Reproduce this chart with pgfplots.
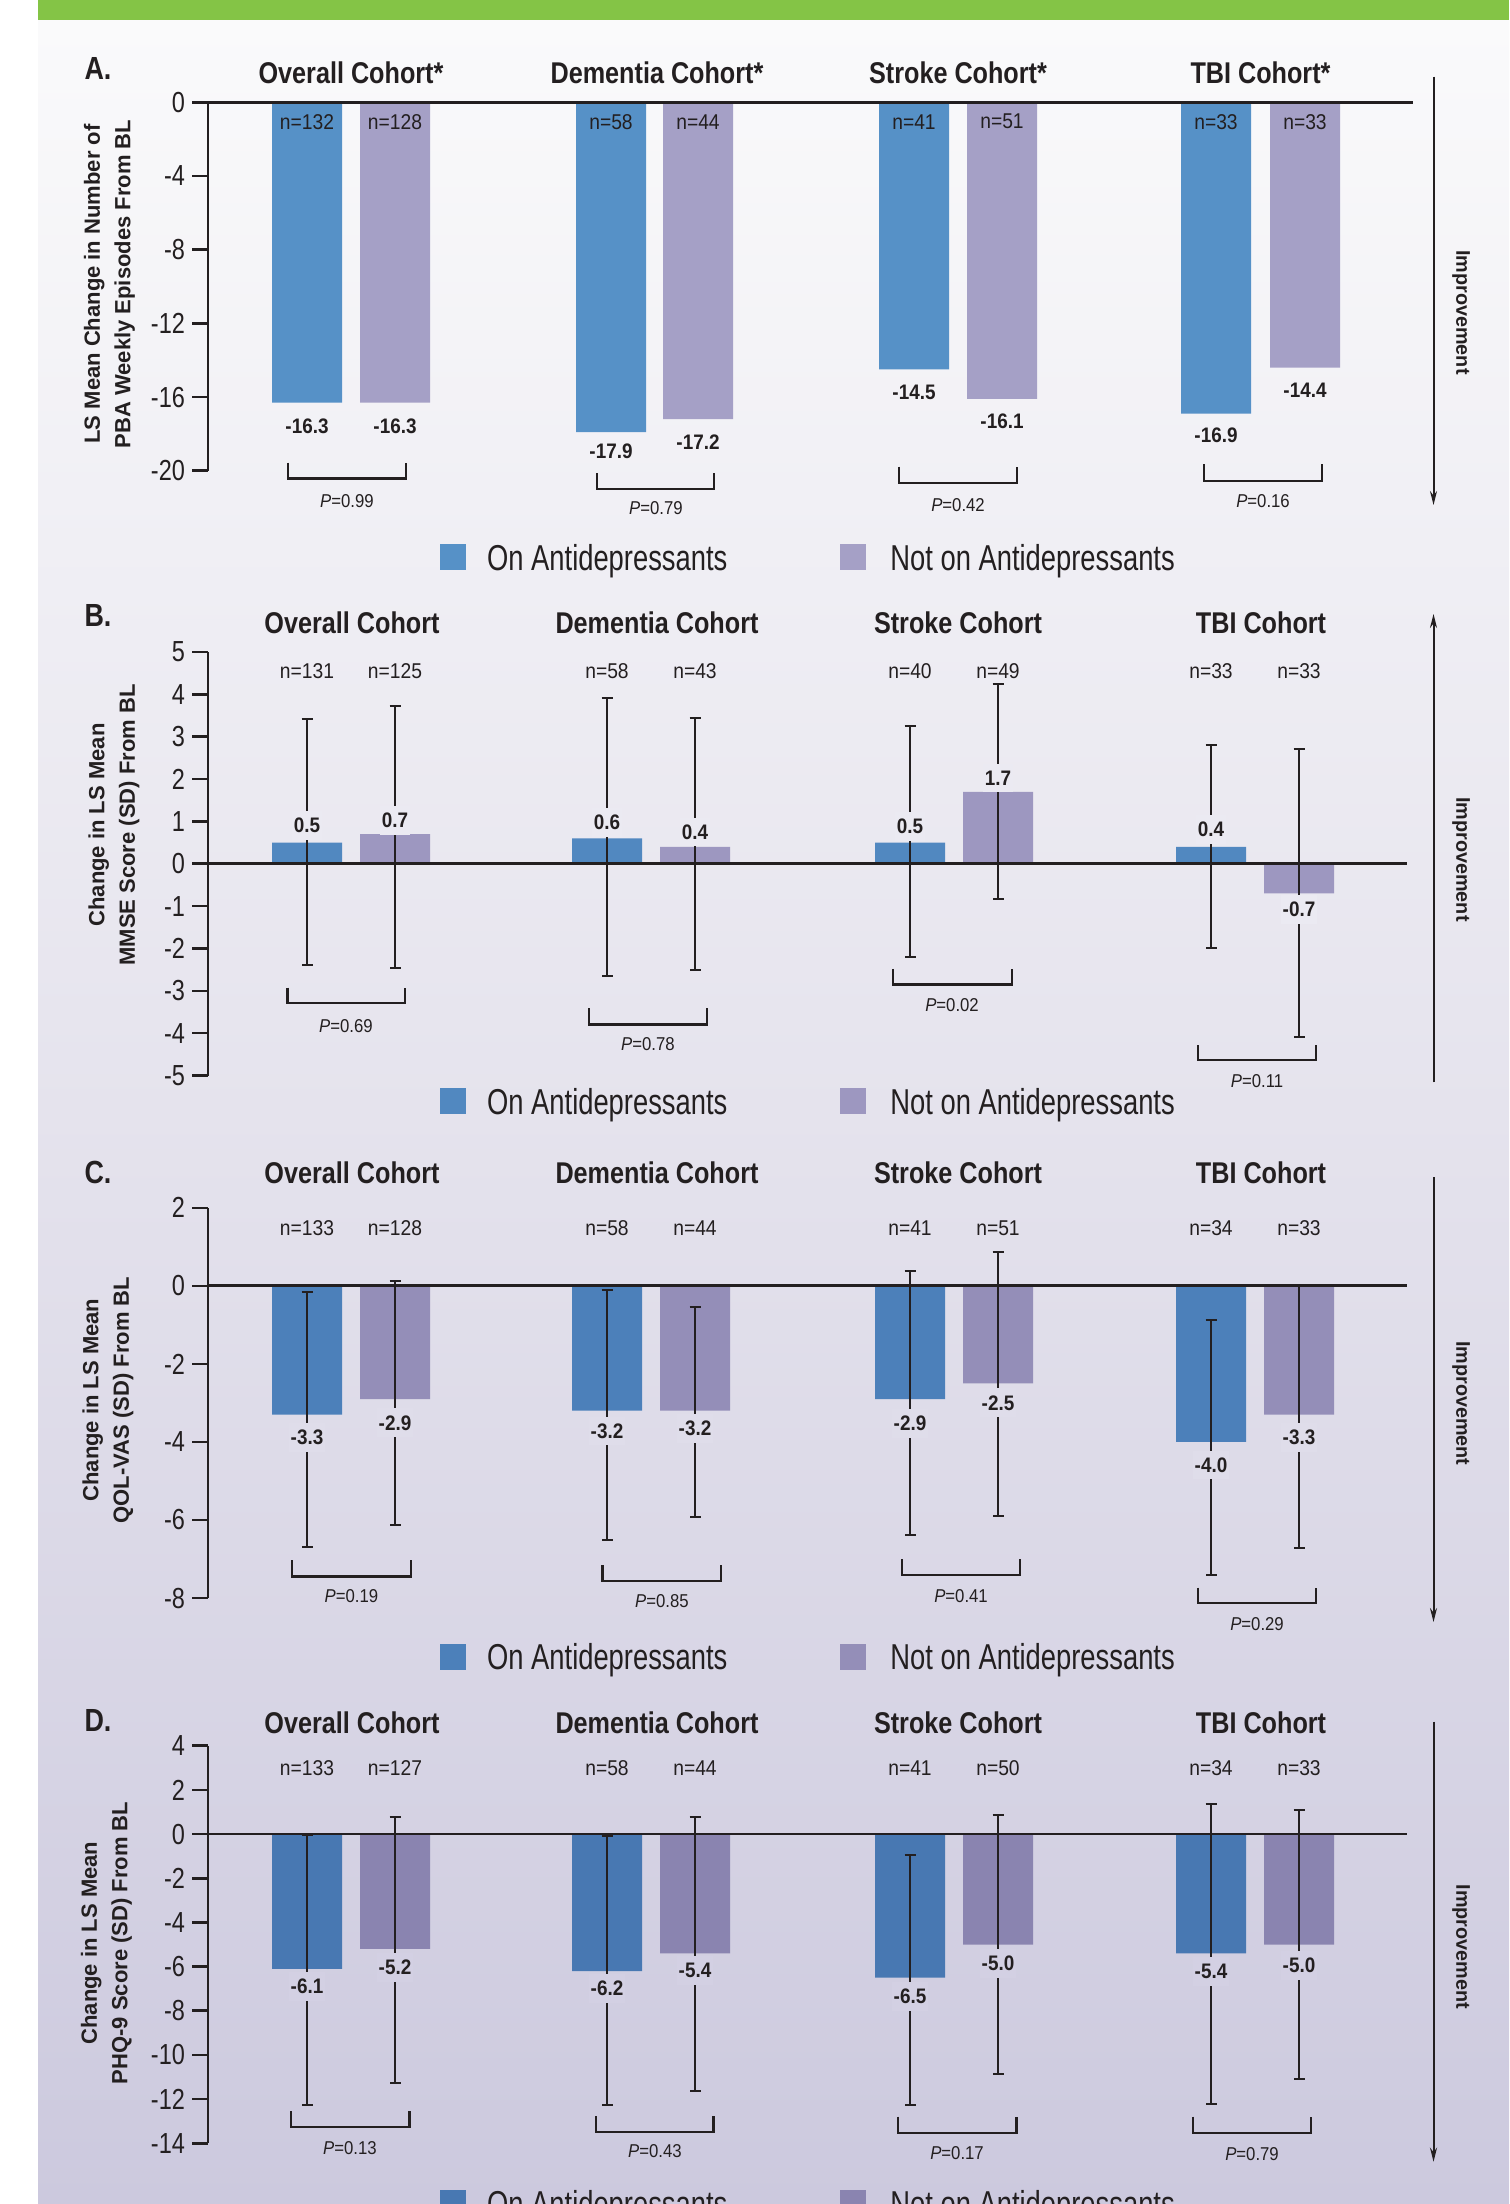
\documentclass[border=0pt]{standalone}
\usepackage{pgfplots}
\pgfplotsset{compat=1.18}
\usepackage{fontspec}
\setmainfont{Liberation Sans}
\newfontfamily\ticksfam[FakeStretch=0.81]{Liberation Sans}
\newfontfamily\titlefam[FakeStretch=0.84]{Liberation Sans}
\newfontfamily\smallfam[FakeStretch=0.9]{Liberation Sans}
\newfontfamily\legfam[FakeStretch=0.76]{Liberation Sans}
\usetikzlibrary{arrows.meta}

\newcommand{\tickfont}{\ticksfam\fontsize{14.5pt}{16pt}\selectfont}
\newcommand{\titlefont}{\titlefam\bfseries\fontsize{15pt}{18pt}\selectfont}
\newcommand{\nfont}{\smallfam\fontsize{10.7pt}{12pt}\selectfont}
\newcommand{\vfont}{\smallfam\bfseries\fontsize{10.5pt}{12pt}\selectfont}
\newcommand{\pfont}{\smallfam\fontsize{9.3pt}{11pt}\selectfont}
\newcommand{\legfont}{\legfam\fontsize{18pt}{20pt}\selectfont}
\newcommand{\ylabfont}{\bfseries\fontsize{11pt}{15.25pt}\selectfont}
\newcommand{\impfont}{\bfseries\fontsize{9.9pt}{12pt}\selectfont}
\newcommand{\letfont}{\titlefam\bfseries\fontsize{16pt}{18pt}\selectfont}

\definecolor{textc}{HTML}{231F20}
\definecolor{blueA}{HTML}{5691C7}
\definecolor{purA}{HTML}{A5A0C6}
\definecolor{blueB}{HTML}{5188C0}
\definecolor{purB}{HTML}{9D97C0}
\definecolor{blueC}{HTML}{4C80BA}
\definecolor{purC}{HTML}{948EB8}
\definecolor{blueD}{HTML}{4878B2}
\definecolor{purD}{HTML}{8A84B0}
\definecolor{bgtop}{HTML}{FAFAFB}
\definecolor{bgmid}{HTML}{E5E3ED}
\definecolor{bgbot}{HTML}{CCC9DE}
\definecolor{hdr}{HTML}{84C446}
\definecolor{gapB}{HTML}{EBEAF2}
\definecolor{gapC}{HTML}{DFDDEA}
\definecolor{gapD}{HTML}{D3D0E3}

\pgfplotsset{
  panel/.style={
    scale only axis, width=601pt, anchor=south west,
    xmin=208, xmax=1410, xtick=\empty,
    axis x line=none, axis y line*=left,
    y axis line style={line width=1.4pt, draw=textc},
    tick align=outside, major tick length=8pt,
    ytick style={line width=1.3pt, draw=textc},
    yticklabel style={font=\tickfont, text=textc},
    clip=false, ybar, bar width=70,
    error bars/error mark=|,
    error bars/error bar style={line width=1pt, draw=textc, solid},
    error bars/error mark options={line width=1pt, draw=textc, mark size=2.75pt},
  },
}
\tikzset{
  zl/.style={line width=1.4pt, draw=textc},
  nlab/.style={font=\nfont, text=textc, inner sep=0pt},
  vlab/.style={font=\vfont, text=textc, inner xsep=1pt, inner ysep=3.5pt},
  ttl/.style={font=\titlefont, text=textc, anchor=base, inner sep=0pt},
  plab/.style={font=\pfont, text=textc, inner sep=0pt},
  brk/.style={line width=1.2pt, draw=textc},
  ylab/.style={rotate=90, align=center, font=\ylabfont, text=textc},
  imp/.style={rotate=-90, font=\impfont, text=textc},
  arr/.style={line width=1pt, draw=textc, -{Stealth[length=7pt, width=3.5pt]}},
  leg/.style={font=\legfont, text=textc, anchor=base west, inner sep=0pt},
  let/.style={font=\letfont, text=textc},
}

\begin{document}
\begin{tikzpicture}[x=0.5pt, y=-0.5pt]
\useasboundingbox (0,0) rectangle (1509,2204);
\clip (0,0) rectangle (1509,2204);
\fill[hdr] (38,0) rectangle (1509,21);
\shade[top color=bgtop, bottom color=bgbot, middle color=bgmid] (38,21) rectangle (1509,2204);

% ---------------- Panel A ----------------
\begin{axis}[panel, at={(104pt,-235.35pt)}, height=184.2pt, ymin=-20, ymax=0,
  ytick={-20,-16,-12,-8,-4,0}, yticklabels={-20,-16,-12,-8,-4,0}]
\addplot[fill=blueA, draw=none, bar shift=0pt] coordinates {(307,-16.3) (611,-17.9) (914,-14.5) (1216,-16.9)};
\addplot[fill=purA, draw=none, bar shift=0pt] coordinates {(395,-16.3) (698,-17.2) (1002,-16.1) (1305,-14.4)};
\draw[zl] (axis cs:208,0) -- (axis cs:1413,0);
\node[nlab] at (axis cs:307,-1.05) {n=132};
\node[nlab] at (axis cs:395,-1.05) {n=128};
\node[nlab] at (axis cs:611,-1.05) {n=58};
\node[nlab] at (axis cs:698,-1.05) {n=44};
\node[nlab] at (axis cs:914,-1.05) {n=41};
\node[nlab] at (axis cs:1002,-1.05) {n=51};
\node[nlab] at (axis cs:1216,-1.05) {n=33};
\node[nlab] at (axis cs:1305,-1.05) {n=33};
\node[vlab] at (axis cs:307,-17.61) {-16.3};
\node[vlab] at (axis cs:395,-17.61) {-16.3};
\node[vlab] at (axis cs:611,-18.97) {-17.9};
\node[vlab] at (axis cs:698,-18.43) {-17.2};
\node[vlab] at (axis cs:914,-15.77) {-14.5};
\node[vlab] at (axis cs:1002,-17.29) {-16.1};
\node[vlab] at (axis cs:1216,-18.06) {-16.9};
\node[vlab] at (axis cs:1305,-15.66) {-14.4};
\end{axis}

% ---------------- Panel B ----------------
\begin{axis}[panel, at={(104pt,-537.75pt)}, height=211.75pt, ymin=-5, ymax=5,
  ytick={-5,-4,-3,-2,-1,0,1,2,3,4,5}, yticklabels={-5,-4,-3,-2,-1,0,1,2,3,4,5}]
\addplot[fill=blueB, draw=none, bar shift=0pt, error bars/.cd, y dir=both, y explicit] coordinates {
 (307,0.5) += (0,2.93) -= (0,2.88)
 (607,0.6) += (0,3.31) -= (0,3.26)
 (910,0.5) += (0,2.75) -= (0,2.71)
 (1211,0.4) += (0,2.40) -= (0,2.39)};
\addplot[fill=purB, draw=none, bar shift=0pt, error bars/.cd, y dir=both, y explicit] coordinates {
 (395,0.7) += (0,3.02) -= (0,3.16)
 (695,0.4) += (0,3.04) -= (0,2.90)
 (998,1.7) += (0,2.55) -= (0,2.53)
 (1299,-0.7) += (0,3.40) -= (0,3.38)};
\draw[zl] (axis cs:208,0) -- (axis cs:1407,0);
\node[nlab] at (axis cs:307,4.55) {n=131};
\node[nlab] at (axis cs:395,4.55) {n=125};
\node[nlab] at (axis cs:607,4.55) {n=58};
\node[nlab] at (axis cs:695,4.55) {n=43};
\node[nlab] at (axis cs:910,4.55) {n=40};
\node[nlab] at (axis cs:998,4.55) {n=49};
\node[nlab] at (axis cs:1211,4.55) {n=33};
\node[nlab] at (axis cs:1299,4.55) {n=33};
\node[vlab, fill=gapB] at (axis cs:307,0.91) {0.5};
\node[vlab, fill=gapB] at (axis cs:395,1.02) {0.7};
\node[vlab, fill=gapB] at (axis cs:607,0.97) {0.6};
\node[vlab, fill=gapB] at (axis cs:695,0.75) {0.4};
\node[vlab, fill=gapB] at (axis cs:910,0.89) {0.5};
\node[vlab, fill=gapB] at (axis cs:998,2.03) {1.7};
\node[vlab, fill=gapB] at (axis cs:1211,0.81) {0.4};
\node[vlab, fill=gapB] at (axis cs:1299,-1.08) {-0.7};
\end{axis}

% ---------------- Panel C ----------------
\begin{axis}[panel, at={(104pt,-799pt)}, height=195.1pt, ymin=-8, ymax=2,
  ytick={-8,-6,-4,-2,0,2}, yticklabels={-8,-6,-4,-2,0,2}]
\addplot[fill=blueC, draw=none, bar shift=0pt, error bars/.cd, y dir=both, y explicit] coordinates {
 (307,-3.3) += (0,3.15) -= (0,3.39)
 (607,-3.2) += (0,3.09) -= (0,3.31)
 (910,-2.9) += (0,3.29) -= (0,3.49)
 (1211,-4.0) += (0,3.12) -= (0,3.40)};
\addplot[fill=purC, draw=none, bar shift=0pt, error bars/.cd, y dir=both, y explicit] coordinates {
 (395,-2.9) += (0,3.03) -= (0,3.24)
 (695,-3.2) += (0,2.67) -= (0,2.73)
 (998,-2.5) += (0,3.37) -= (0,3.41)
 (1299,-3.3) += (0,3.30) -= (0,3.43)};
\draw[zl] (axis cs:208,0) -- (axis cs:1407,0);
\node[nlab] at (axis cs:307,1.48) {n=133};
\node[nlab] at (axis cs:395,1.48) {n=128};
\node[nlab] at (axis cs:607,1.48) {n=58};
\node[nlab] at (axis cs:695,1.48) {n=44};
\node[nlab] at (axis cs:910,1.48) {n=41};
\node[nlab] at (axis cs:998,1.48) {n=51};
\node[nlab] at (axis cs:1211,1.48) {n=34};
\node[nlab] at (axis cs:1299,1.48) {n=33};
\node[vlab, fill=gapC] at (axis cs:307,-3.89) {-3.3};
\node[vlab, fill=gapC] at (axis cs:395,-3.51) {-2.9};
\node[vlab, fill=gapC] at (axis cs:607,-3.72) {-3.2};
\node[vlab, fill=gapC] at (axis cs:695,-3.66) {-3.2};
\node[vlab, fill=gapC] at (axis cs:910,-3.53) {-2.9};
\node[vlab, fill=gapC] at (axis cs:998,-3.00) {-2.5};
\node[vlab, fill=gapC] at (axis cs:1211,-4.59) {-4.0};
\node[vlab, fill=gapC] at (axis cs:1299,-3.89) {-3.3};
\end{axis}

% ---------------- Panel D ----------------
\begin{axis}[panel, at={(104pt,-1071.65pt)}, height=198.8pt, ymin=-14, ymax=4,
  ytick={-14,-12,-10,-8,-6,-4,-2,0,2,4}, yticklabels={-14,-12,-10,-8,-6,-4,-2,0,2,4}]
\addplot[fill=blueD, draw=none, bar shift=0pt, error bars/.cd, y dir=both, y explicit] coordinates {
 (307,-6.1) += (0,6.05) -= (0,6.17)
 (607,-6.2) += (0,6.13) -= (0,6.07)
 (910,-6.5) += (0,5.55) -= (0,5.77)
 (1211,-5.4) += (0,6.74) -= (0,6.84)};
\addplot[fill=purD, draw=none, bar shift=0pt, error bars/.cd, y dir=both, y explicit] coordinates {
 (395,-5.2) += (0,5.96) -= (0,6.06)
 (695,-5.4) += (0,6.18) -= (0,6.23)
 (998,-5.0) += (0,5.86) -= (0,5.86)
 (1299,-5.0) += (0,6.10) -= (0,6.10)};
\draw[zl] (axis cs:208,0) -- (axis cs:1407,0);
\node[nlab] at (axis cs:307,3.0) {n=133};
\node[nlab] at (axis cs:395,3.0) {n=127};
\node[nlab] at (axis cs:607,3.0) {n=58};
\node[nlab] at (axis cs:695,3.0) {n=44};
\node[nlab] at (axis cs:910,3.0) {n=41};
\node[nlab] at (axis cs:998,3.0) {n=50};
\node[nlab] at (axis cs:1211,3.0) {n=34};
\node[nlab] at (axis cs:1299,3.0) {n=33};
\node[vlab, fill=gapD] at (axis cs:307,-6.90) {-6.1};
\node[vlab, fill=gapD] at (axis cs:395,-6.05) {-5.2};
\node[vlab, fill=gapD] at (axis cs:607,-6.98) {-6.2};
\node[vlab, fill=gapD] at (axis cs:695,-6.19) {-5.4};
\node[vlab, fill=gapD] at (axis cs:910,-7.36) {-6.5};
\node[vlab, fill=gapD] at (axis cs:998,-5.85) {-5.0};
\node[vlab, fill=gapD] at (axis cs:1211,-6.23) {-5.4};
\node[vlab, fill=gapD] at (axis cs:1299,-5.93) {-5.0};
\end{axis}

% ---------------- Titles, letters, y labels ----------------
\node[let] at (98,68) {A.};
\node[let] at (98,615.8) {B.};
\node[let] at (98,1172.7) {C.};
\node[let] at (98,1720.7) {D.};

\node[ttl] at (351,83.3) {Overall Cohort*};
\node[ttl] at (657,83.3) {Dementia Cohort*};
\node[ttl] at (958,83.3) {Stroke Cohort*};
\node[ttl] at (1260.5,83.3) {TBI Cohort*};
\foreach \yy in {633,1183,1733.3}{
  \node[ttl] at (352,\yy) {Overall Cohort};
  \node[ttl] at (657,\yy) {Dementia Cohort};
  \node[ttl] at (958,\yy) {Stroke Cohort};
  \node[ttl] at (1261,\yy) {TBI Cohort};
}

\node[ylab] at (109.5,284) {LS Mean Change in Number of\\PBA Weekly Episodes From BL};
\node[ylab] at (114,825) {Change in LS Mean\\MMSE Score (SD) From BL};
\node[ylab] at (108,1400) {Change in LS Mean\\QOL-VAS (SD) From BL};
\node[ylab] at (106.5,1943) {Change in LS Mean\\PHQ-9 Score (SD) From BL};

% ---------------- Improvement arrows ----------------
\draw[arr] (1433.5,76.7) -- (1433.5,505);
\node[imp] at (1461,312.5) {Improvement};
\draw[arr] (1433.5,1082.4) -- (1433.5,614);
\node[imp] at (1461,859.5) {Improvement};
\draw[arr] (1433.5,1177.2) -- (1433.5,1622);
\node[imp] at (1461,1403.4) {Improvement};
\draw[arr] (1433.5,1721.7) -- (1433.5,2161.7);
\node[imp] at (1461,1946.7) {Improvement};

% ---------------- P-value brackets ----------------
\draw[brk] (288,462.7) -- (288,478.3) -- (406,478.3) -- (406,462.7);
\node[plab] at (347,501) {\textit{P}=0.99};
\draw[brk] (597,473) -- (597,489) -- (714,489) -- (714,473);
\node[plab] at (656,507.7) {\textit{P}=0.79};
\draw[brk] (899,466.7) -- (899,482.7) -- (1017,482.7) -- (1017,466.7);
\node[plab] at (958,505) {\textit{P}=0.42};
\draw[brk] (1204,464) -- (1204,480.7) -- (1322,480.7) -- (1322,464);
\node[plab] at (1263,501) {\textit{P}=0.16};

\draw[brk] (287.5,987.7) -- (287.5,1003.2) -- (405,1003.2) -- (405,987.7);
\node[plab] at (346,1025.6) {\textit{P}=0.69};
\draw[brk] (589,1008.4) -- (589,1024.6) -- (707,1024.6) -- (707,1008.4);
\node[plab] at (648,1044.5) {\textit{P}=0.78};
\draw[brk] (893,968.8) -- (893,984.3) -- (1012,984.3) -- (1012,968.8);
\node[plab] at (952,1005) {\textit{P}=0.02};
\draw[brk] (1198,1045.2) -- (1198,1060) -- (1316,1060) -- (1316,1045.2);
\node[plab] at (1257,1080.7) {\textit{P}=0.11};

\draw[brk] (292,1560.1) -- (292,1576.3) -- (411,1576.3) -- (411,1560.1);
\node[plab] at (351.5,1596.3) {\textit{P}=0.19};
\draw[brk] (602.5,1565.3) -- (602.5,1580.8) -- (721,1580.8) -- (721,1565.3);
\node[plab] at (662,1600.7) {\textit{P}=0.85};
\draw[brk] (901.7,1559.4) -- (901.7,1574.9) -- (1020,1574.9) -- (1020,1559.4);
\node[plab] at (961,1596.3) {\textit{P}=0.41};
\draw[brk] (1198,1587.7) -- (1198,1603.2) -- (1316,1603.2) -- (1316,1587.7);
\node[plab] at (1257,1623.8) {\textit{P}=0.29};

\draw[brk] (291,2111) -- (291,2126.7) -- (409.6,2126.7) -- (409.6,2111);
\node[plab] at (350,2148.3) {\textit{P}=0.13};
\draw[brk] (596,2116) -- (596,2131.7) -- (713.5,2131.7) -- (713.5,2116);
\node[plab] at (655,2150.7) {\textit{P}=0.43};
\draw[brk] (898,2116.7) -- (898,2132.7) -- (1016.6,2132.7) -- (1016.6,2116.7);
\node[plab] at (957,2152.7) {\textit{P}=0.17};
\draw[brk] (1193,2116.7) -- (1193,2132.7) -- (1311,2132.7) -- (1311,2116.7);
\node[plab] at (1252,2154) {\textit{P}=0.79};

% ---------------- Legends ----------------
\fill[blueA] (440,544) rectangle (466,570);
\node[leg] at (486.7,570) {On Antidepressants};
\fill[purA] (840,544) rectangle (866,570);
\node[leg] at (890,570) {Not on Antidepressants};

\fill[blueB] (440,1088.4) rectangle (466,1114.4);
\node[leg] at (486.7,1114.4) {On Antidepressants};
\fill[purB] (840,1088.4) rectangle (866,1114.4);
\node[leg] at (890,1114.4) {Not on Antidepressants};

\fill[blueC] (440,1643.5) rectangle (466,1669.5);
\node[leg] at (486.7,1669.5) {On Antidepressants};
\fill[purC] (840,1643.5) rectangle (866,1669.5);
\node[leg] at (890,1669.5) {Not on Antidepressants};

\fill[blueD] (440,2190) rectangle (466,2216);
\node[leg] at (486.7,2216) {On Antidepressants};
\fill[purD] (840,2190) rectangle (866,2216);
\node[leg] at (890,2216) {Not on Antidepressants};
\end{tikzpicture}
\end{document}
